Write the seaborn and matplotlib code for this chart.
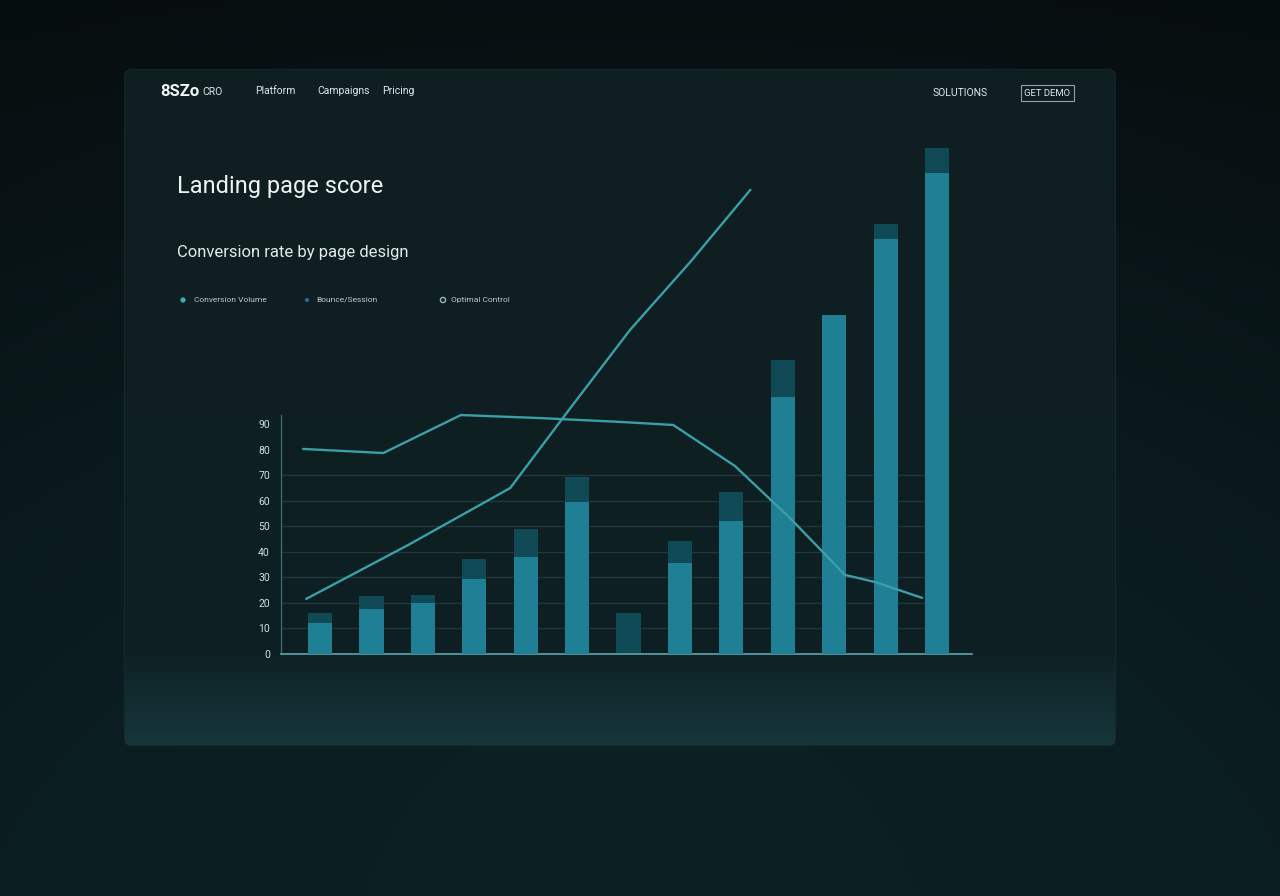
import numpy as np
import pandas as pd
import matplotlib
matplotlib.use("Agg")
import matplotlib.pyplot as plt
import seaborn as sns
from matplotlib.patches import FancyBboxPatch, Rectangle, Circle

# ---------------- data ----------------
categories = ["W1", "W2", "W3", "W4", "W5", "W6", "W7",
              "W8", "W9", "W10", "W11", "W12", "W13"]
base_values = [12.2, 17.6, 20.0, 29.4, 38.0, 59.6, 0.0,
               35.7, 52.2, 100.8, 132.9, 162.7, 188.6]
cap_values = [3.9, 5.1, 3.1, 7.9, 11.0, 9.8, 16.1,
              8.6, 11.3, 14.5, 0.0, 5.9, 9.8]

growth_x = [-0.27, 1.71, 3.70, 4.81, 6.03, 7.20, 8.37]
growth_y = [21.6, 42.7, 65.1, 94.9, 127.1, 153.7, 182.0]

rate_x = [-0.33, 1.23, 2.74, 4.28, 5.84, 6.87, 8.07, 9.14, 10.21, 10.80, 11.71]
rate_y = [80.4, 78.8, 93.7, 92.5, 91.0, 89.8, 73.7, 53.3, 31.0, 28.2, 22.0]

y_ticks = [0, 10, 20, 30, 40, 50, 60, 70, 80, 90]
grid_values = [10, 20, 30, 40, 50, 60, 70]

title = "Landing page score"
subtitle = "Conversion rate by page design"
legend_labels = ["Conversion Volume", "Bounce/Session", "Optimal Control"]
nav_items = ["Platform", "Campaigns", "Pricing"]

# ---------------- style ----------------
sns.set_theme(style="dark")
plt.rcParams["font.family"] = ["Roboto", "DejaVu Sans"]

W, H = 1280, 896
fig = plt.figure(figsize=(12.8, 8.96), dpi=100)

# background axes in pixel coordinates
bg = fig.add_axes([0, 0, 1, 1], zorder=-10)
bg.set_xlim(0, W)
bg.set_ylim(H, 0)
bg.axis("off")

yy, xx = np.mgrid[0:H, 0:W]
t = yy / H
top = np.array([0.035, 0.068, 0.078])
bot = np.array([0.055, 0.160, 0.175])
img = top[None, None, :] * (1 - t[..., None]) + bot[None, None, :] * t[..., None]
r = np.sqrt(((xx - W * 0.5) / W) ** 2 + ((yy - H * 0.45) / H) ** 2)
img = img * (1.05 - 0.45 * r[..., None])
bg.imshow(np.clip(img, 0, 1), extent=[0, W, H, 0], zorder=0, aspect="auto")

# panel
px0, py0, px1, py1 = 125, 70, 1115, 745
panel = FancyBboxPatch((px0, py0), px1 - px0, py1 - py0,
                       boxstyle="round,pad=0,rounding_size=6",
                       facecolor="#0f2125", edgecolor="#1a3135", lw=1.0, zorder=1)
bg.add_patch(panel)
ph = py1 - py0
pt = np.linspace(0, 1, ph)[:, None]
pt = np.repeat(pt, px1 - px0, axis=1)
ptop = np.array([0.058, 0.118, 0.130])
pmid = np.array([0.055, 0.125, 0.140])
pbot = np.array([0.085, 0.215, 0.230])
w = np.clip((pt - 0.86) / 0.14, 0, 1)
pimg = (ptop[None, None, :] * (1 - pt[..., None]) + pmid[None, None, :] * pt[..., None])
pimg = pimg * (1 - w[..., None]) + pbot[None, None, :] * w[..., None]
im = bg.imshow(pimg, extent=[px0, px1, py1, py0], zorder=2, aspect="auto")
im.set_clip_path(panel)

txt = "#dfe8ea"
# header
bg.text(160, 92, "8SZo", color="#f2f6f6", fontsize=12, fontweight="bold",
        va="center", ha="left", zorder=5)
bg.text(202, 92, "CRO", color=txt, fontsize=7.5, va="center", ha="left", zorder=5)
for x, s in zip([255, 317, 382], nav_items):
    bg.text(x, 91, s, color=txt, fontsize=7.5, va="center", ha="left", zorder=5)
bg.text(933, 93, "SOLUTIONS", color=txt, fontsize=7.5, va="center", ha="left", zorder=5)
bg.add_patch(Rectangle((1021, 85), 53, 16, facecolor="none",
                       edgecolor="#8fa5a8", lw=0.8, zorder=5))
bg.text(1047.5, 93, "GET DEMO", color=txt, fontsize=6.8, va="center", ha="center", zorder=5)

# title block
bg.text(177, 186, title, color="#eef3f3", fontsize=17, va="center", ha="left", zorder=5)
bg.text(177, 253, subtitle, color="#e3eaeb", fontsize=12, va="center", ha="left", zorder=5)

# legend
bg.add_patch(Circle((183, 300), 2.6, facecolor="#3bb3b3", edgecolor="none", zorder=5))
bg.add_patch(Circle((307, 300), 2.0, facecolor="#2a6f86", edgecolor="none", zorder=5))
bg.add_patch(Circle((443, 300), 2.6, facecolor="none", edgecolor="#9fb6b8", lw=1.0, zorder=5))
for x, s in zip([194, 316, 451], legend_labels):
    bg.text(x, 300, s, color="#b9c8ca", fontsize=6, va="center", ha="left", zorder=5)

# ---------------- chart axes ----------------
ax = fig.add_axes([281 / W, 1 - 654 / H, (972 - 281) / W, (654 - 148) / H])
ax.set_facecolor("none")

df = pd.DataFrame({
    "pos": np.arange(len(categories)),
    "category": categories,
    "base": base_values,
    "cap": cap_values,
})
df["total"] = df["base"] + df["cap"]

cap_color = "#0f4a56"
main_color = "#1f7f95"
line_color = "#3c9ea7"

for g in grid_values:
    ax.plot([-0.76, 11.77], [g, g], color="#1e3a3f", lw=0.9, zorder=0.5)

sns.barplot(data=df, x="pos", y="total", native_scale=True, color=cap_color,
            saturation=1, width=0.47, ax=ax, zorder=2, errorbar=None,
            edgecolor="none", linewidth=0)
sns.barplot(data=df, x="pos", y="base", native_scale=True, color=main_color,
            saturation=1, width=0.47, ax=ax, zorder=3, errorbar=None,
            edgecolor="none", linewidth=0)

sns.lineplot(x=growth_x, y=growth_y, ax=ax, color=line_color, lw=1.7,
             estimator=None, sort=False, zorder=4)
sns.lineplot(x=rate_x, y=rate_y, ax=ax, color=line_color, lw=1.7,
             estimator=None, sort=False, zorder=4)

ax.set_xlim(-0.76, 12.68)
ax.set_ylim(0, 198.4)
ax.set_yticks(y_ticks)
ax.set_yticklabels([str(v) for v in y_ticks])
ax.set_xticks([])
ax.set_xlabel("")
ax.set_ylabel("")
ax.tick_params(axis="y", length=0, pad=8, labelsize=7.5, labelcolor="#d5dfe0")
ax.grid(False)
for s in ["top", "right"]:
    ax.spines[s].set_visible(False)
ax.spines["left"].set_color("#3b6f76")
ax.spines["left"].set_linewidth(0.9)
ax.spines["left"].set_bounds(0, 93.7)
ax.spines["bottom"].set_color("#5aa6ae")
ax.spines["bottom"].set_linewidth(1.2)

fig.savefig("out.png", dpi=100)
